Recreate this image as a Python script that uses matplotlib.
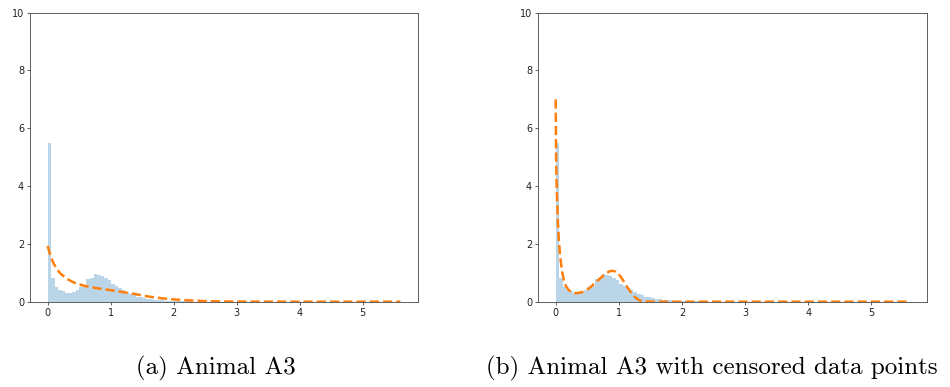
import numpy as np
import matplotlib
matplotlib.use("Agg")
import matplotlib.pyplot as plt

# histogram heights (density), bins of width 0.056 starting at 0
bin_width = 0.056
hist_heights = [5.5, 0.82, 0.5, 0.42, 0.36, 0.3, 0.3, 0.33, 0.42, 0.5,
                0.55, 0.8, 0.82, 0.96, 0.94, 0.9, 0.82, 0.75, 0.62, 0.55,
                0.48, 0.4, 0.33, 0.27, 0.22, 0.18, 0.15, 0.13, 0.11, 0.09,
                0.07, 0.06, 0.05, 0.04, 0.03, 0.03, 0.02, 0.02, 0.015, 0.01,
                0.01]

# fitted density, plain fit (a)
fit_a_x = [0.0, 0.05, 0.1, 0.15, 0.2, 0.3, 0.4, 0.5, 0.6, 0.8, 1.0, 1.2,
           1.4, 1.6, 1.8, 2.0, 2.2, 2.4, 2.6, 2.8, 3.0, 3.5, 4.0, 5.6]
fit_a_y = [1.93, 1.55, 1.3, 1.12, 0.98, 0.8, 0.68, 0.6, 0.54, 0.46, 0.4, 0.33,
           0.26, 0.18, 0.12, 0.08, 0.05, 0.03, 0.015, 0.008, 0.004, 0.001, 0.0, 0.0]

# fitted density with censored points (b)
fit_b_x = [0.0, 0.005, 0.01, 0.02, 0.035, 0.05, 0.07, 0.1, 0.13, 0.16, 0.2,
           0.25, 0.3, 0.35, 0.4, 0.45, 0.5, 0.55, 0.6, 0.65, 0.7, 0.75, 0.8,
           0.85, 0.9, 0.95, 1.0, 1.05, 1.1, 1.15, 1.2, 1.25, 1.3, 1.35, 1.4,
           1.5, 1.6, 5.6]
fit_b_y = [7.0, 5.5, 4.6, 3.7, 2.8, 2.15, 1.6, 1.05, 0.75, 0.55, 0.42,
           0.33, 0.3, 0.3, 0.32, 0.36, 0.42, 0.5, 0.6, 0.7, 0.8, 0.9, 0.98,
           1.05, 1.07, 1.04, 0.95, 0.8, 0.62, 0.45, 0.3, 0.17, 0.08, 0.03, 0.01,
           0.002, 0.0, 0.0]

captions = ["(a) Animal A3", "(b) Animal A3 with censored data points"]

fig = plt.figure(figsize=(9.5, 3.87), dpi=100)
ax1 = fig.add_axes([0.0316, 0.2204, 0.4084, 0.7468])
ax2 = fig.add_axes([0.5663, 0.2204, 0.4095, 0.7468])

edges = np.arange(len(hist_heights) + 1) * bin_width
centers = edges[:-1] + bin_width / 2

for ax, fx, fy in [(ax1, fit_a_x, fit_a_y), (ax2, fit_b_x, fit_b_y)]:
    ax.hist(centers, bins=edges, weights=hist_heights, histtype='stepfilled',
            color='C0', alpha=0.3)
    ax.plot(fx, fy, '--', color='C1', lw=1.8)
    ax.set_ylim(0, 10)
    ax.set_yticks([0, 2, 4, 6, 8, 10])
    ax.tick_params(labelsize=7, length=2.3, width=0.6, pad=2,
                   colors='#444444', labelcolor='#222222')
    for s in ax.spines.values():
        s.set_linewidth(0.6)
        s.set_color('#444444')

fig.text(216 / 950, 1 - 368 / 387, captions[0], family='cmr10', fontsize=18,
         ha='center', va='center')
fig.text(712 / 950, 1 - 368 / 387, captions[1], family='cmr10', fontsize=18,
         ha='center', va='center')

fig.savefig("out.png", dpi=100)
